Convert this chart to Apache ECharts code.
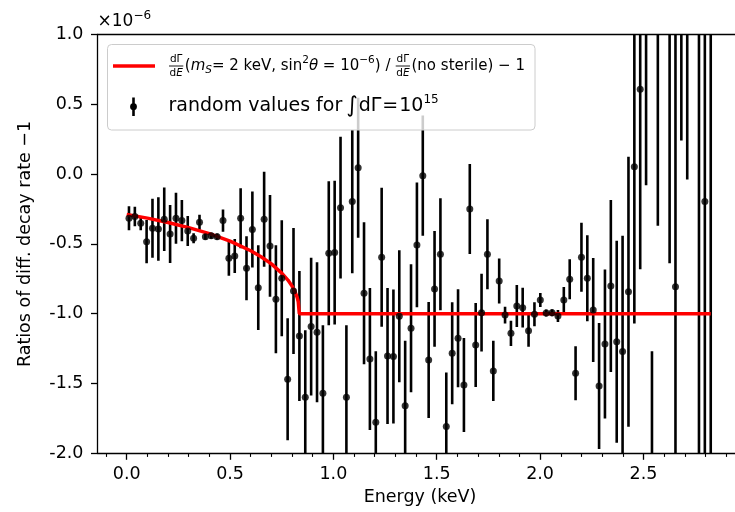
<!DOCTYPE html>
<html><head><meta charset="utf-8">
<script src="https://cdn.jsdelivr.net/npm/echarts@6/dist/echarts.min.js"></script>
<style>html,body{margin:0;padding:0;background:#fff}#c{width:735px;height:512px}</style>
</head><body><div id="c"></div>
<script>
// Energy (keV) of each random point
const xs = [0.0110,0.0394,0.0679,0.0963,0.1247,0.1532,0.1816,0.2100,0.2384,0.2669,
0.2953,0.3237,0.3522,0.3806,0.4090,0.4375,0.4659,0.4943,0.5227,0.5512,
0.5796,0.6080,0.6365,0.6649,0.6933,0.7218,0.7502,0.7786,0.8070,0.8355,
0.8639,0.8923,0.9208,0.9492,0.9776,1.0061,1.0345,1.0629,1.0913,1.1198,
1.1482,1.1766,1.2051,1.2335,1.2619,1.2904,1.3188,1.3472,1.3756,1.4041,
1.4325,1.4609,1.4894,1.5178,1.5462,1.5747,1.6031,1.6315,1.6599,1.6884,
1.7168,1.7452,1.7737,1.8021,1.8305,1.8590,1.8874,1.9158,1.9442,1.9727,
2.0011,2.0295,2.0580,2.0864,2.1148,2.1433,2.1717,2.2001,2.2285,2.2570,
2.2854,2.3138,2.3423,2.3707,2.3991,2.4276,2.4560,2.4844,2.5128,2.5413,
2.5697,2.5981,2.6266,2.6550,2.6834,2.7119,2.7403,2.7687,2.7971,2.8256];
// random values (x 1e-6)
const ys = [-0.317,-0.304,-0.353,-0.485,-0.389,-0.394,-0.324,-0.430,-0.317,-0.334,
-0.408,-0.460,-0.346,-0.449,-0.442,-0.449,-0.334,-0.604,-0.587,-0.317,
-0.675,-0.397,-0.814,-0.324,-0.515,-0.897,-0.747,-1.470,-0.838,-1.160,
-1.599,-1.093,-1.133,-1.570,-0.568,-0.563,-0.241,-1.599,-0.198,0.045,
-0.854,-1.325,-1.778,-0.596,-1.303,-1.307,-1.019,-1.659,-1.105,-0.508,
-0.012,-1.332,-0.823,-0.575,-1.809,-1.284,-1.176,-1.511,-0.251,-1.224,
-0.993,-0.575,-1.410,-0.766,-1.010,-1.141,-0.945,-0.957,-1.122,-1.005,
-0.902,-0.995,-0.993,-1.017,-0.902,-0.754,-1.427,-0.596,-0.747,-0.974,
-1.518,-1.217,-0.802,-1.201,-1.272,-0.843,0.052,0.606,1.42,-2.97,
1.63,3.6,2.06,-0.807,3.64,3.76,-6.5,-2.6,-0.198,2.3];
// symmetric error bars
const errs = [0.086,0.07,0.05,0.155,0.211,0.227,0.227,0.208,0.183,0.148,
0.107,0.036,0.054,0.022,0.022,0.022,0.079,0.125,0.122,0.215,
0.229,0.272,0.304,0.340,0.365,0.387,0.415,0.437,0.451,0.465,
0.480,0.494,0.501,0.487,0.515,0.515,0.508,0.515,0.512,0.501,
0.508,0.508,0.508,0.498,0.487,0.480,0.473,0.465,0.458,0.447,
0.430,0.415,0.415,0.401,0.387,0.365,0.351,0.337,0.322,0.301,
0.279,0.251,0.215,0.161,0.06,0.09,0.15,0.143,0.115,0.086,
0.05,0.025,0.025,0.043,0.093,0.143,0.193,0.247,0.308,0.372,
0.451,0.533,0.616,0.723,0.83,0.967,1.122,1.289,1.5,1.7,
2.0,2.3,2.7,3.0,3.4,3.8,4.3,5.0,5.5,6.2];
// theory curve (red)
const curveX = [0,0.1,0.2,0.3,0.4,0.5,0.6,0.65,0.7,0.75,0.78,0.8,0.815,0.825,0.83,0.835,2.8256];
const curveY = [-0.290,-0.316,-0.347,-0.384,-0.427,-0.481,-0.550,-0.593,-0.644,-0.710,-0.760,-0.803,-0.845,-0.885,-0.915,-1.0,-1.0];
// ticks
const xMajor = [0,0.5,1.0,1.5,2.0,2.5];
const xMinor = [-0.1,0.1,0.2,0.3,0.4,0.6,0.7,0.8,0.9,1.1,1.2,1.3,1.4,1.6,1.7,1.8,1.9,2.1,2.2,2.3,2.4,2.6,2.7,2.8,2.9];

const FONT = 'DejaVu Sans';
const XMIN = -0.1413, XMAX = 2.943;

const chart = echarts.init(document.getElementById('c'));
const ctx = document.createElement('canvas').getContext('2d');
function tw(t, size, it){ ctx.font = (it?'italic ':'') + size + 'px "' + FONT + '"'; return ctx.measureText(t).width; }

const graphics = [];
function txt(x, y, t, size, it, align){
  graphics.push({type:'text', x:x, y:y, zlevel:1, z:101, style:{text:t, fontFamily:FONT, fontSize:size, fontStyle: it?'italic':'normal', fill:'#000', align: align||'left', verticalAlign:'middle'}});
}
function frac(x, y, fs){
  const wn = tw('dΓ', fs, false);
  const wd = tw('d', fs, false) + tw('E', fs, true);
  const W = Math.max(wn, wd) + 2;
  txt(x + W/2, y - 6.5, 'dΓ', fs, false, 'center');
  txt(x + (W - wd)/2, y + 7, 'd', fs, false);
  txt(x + (W - wd)/2 + tw('d', fs, false), y + 7, 'E', fs, true);
  graphics.push({type:'line', zlevel:1, z:101, shape:{x1:x+0.5, y1:y, x2:x+W-0.5, y2:y}, style:{stroke:'#000', lineWidth:0.9}});
  return W;
}
function run(x, y, pieces){
  for (const p of pieces){
    if (p.frac){ x += frac(x, y, p.fs) + 1; continue; }
    txt(x, y + (p.dy||0), p.t, p.s, p.it);
    x += tw(p.t, p.s, p.it) + (p.gap||0);
  }
}

// legend box
graphics.push({type:'rect', zlevel:1, z:100, shape:{x:107.5, y:44.5, width:427.5, height:85.5, r:4}, style:{fill:'rgba(255,255,255,0.8)', stroke:'#cccccc', lineWidth:1}});
graphics.push({type:'line', zlevel:1, z:101, shape:{x1:113, y1:66, x2:155, y2:66}, style:{stroke:'#ff0000', lineWidth:3.5}});
graphics.push({type:'line', zlevel:1, z:101, shape:{x1:133.5, y1:97.5, x2:133.5, y2:116}, style:{stroke:'#000', lineWidth:2.6}});
graphics.push({type:'circle', zlevel:1, z:101, shape:{cx:133.5, cy:106.7, r:3.4}, style:{fill:'#000'}});
const S1 = 15, s1 = 10.5;
run(168.5, 66, [
  {frac:true, fs:10.5},
  {t:'(', s:S1}, {t:'m', s:S1, it:true}, {t:'S', s:s1, it:true, dy:4},
  {t:'= 2 keV, sin', s:S1}, {t:'2', s:s1, dy:-6}, {t:'θ', s:S1, it:true},
  {t:' = 10', s:S1}, {t:'−6', s:s1, dy:-6}, {t:') / ', s:S1},
  {frac:true, fs:10.5},
  {t:'(no sterile) − 1', s:S1}
]);
const S2 = 19;
run(168.5, 106.5, [
  {t:'random values for ', s:S2, gap:-2}, {t:'∫', s:22, it:true, gap:1},
  {t:'dΓ', s:S2, gap:1}, {t:'=', s:S2, gap:1}, {t:'10', s:S2}, {t:'15', s:12, dy:-7}
]);
// offset text and axis titles
txt(97.5, 22, '×10', 17, false);
txt(97.5 + tw('×10', 17, false), 16, '−6', 12, false);
txt(420, 497, 'Energy (keV)', 17.5, false, 'center');
graphics.push({type:'text', x:25, y:244, rotation:Math.PI/2, zlevel:1, z:101, style:{text:'Ratios of diff. decay rate −1', fontFamily:FONT, fontSize:17.5, fill:'#000', align:'center', verticalAlign:'middle'}});

const errData = xs.map((x,i)=>[x, ys[i], errs[i]]);
const ptData = xs.map((x,i)=>[x, ys[i]]);
const lineData = curveX.map((x,i)=>[x, curveY[i]]);

const axisCommon = {min:XMIN, max:XMAX, type:'value', splitLine:{show:false}};
chart.setOption({
  animation:false,
  grid:{left:97.5, right:0, top:34.3, bottom:58.7, containLabel:false},
  xAxis:[
    Object.assign({}, axisCommon, {position:'bottom',
      axisLine:{show:true, onZero:false, lineStyle:{color:'#000', width:1.3}},
      axisTick:{show:true, customValues:xMajor, length:6.5, lineStyle:{color:'#000', width:1.3}},
      axisLabel:{show:true, customValues:xMajor, margin:12, fontFamily:FONT, fontSize:17.5, color:'#000', formatter:v=>v.toFixed(1)}}),
    Object.assign({}, axisCommon, {position:'bottom',
      axisLine:{show:false, onZero:false},
      axisTick:{show:true, customValues:xMinor, length:3.6, lineStyle:{color:'#000', width:1.1}},
      axisLabel:{show:false}}),
    Object.assign({}, axisCommon, {position:'top',
      axisLine:{show:true, onZero:false, lineStyle:{color:'#000', width:1.3}},
      axisTick:{show:false}, axisLabel:{show:false}})
  ],
  yAxis:[{type:'value', min:-2, max:1, interval:0.5, splitLine:{show:false},
    axisLine:{show:true, onZero:false, lineStyle:{color:'#000', width:1.3}},
    axisTick:{show:true, length:6.5, lineStyle:{color:'#000', width:1.3}},
    axisLabel:{margin:14, fontFamily:FONT, fontSize:17.5, color:'#000', formatter:v=>v.toFixed(1)}}],
  series:[
    {type:'custom', xAxisIndex:0, yAxisIndex:0, z:1, clip:true, data:errData,
      renderItem:function(params, api){
        const x = api.value(0), y = api.value(1), e = api.value(2);
        const p1 = api.coord([x, y+e]), p2 = api.coord([x, y-e]);
        return {type:'line', shape:{x1:p1[0], y1:p1[1], x2:p2[0], y2:p2[1]}, style:{stroke:'#000', lineWidth:2.6}};
      }},
    {type:'line', xAxisIndex:0, z:2, data:lineData, showSymbol:false, symbol:'none', clip:true,
      lineStyle:{color:'#ff0000', width:3.5}},
    {type:'scatter', xAxisIndex:0, z:3, data:ptData, symbol:'circle', symbolSize:7, clip:true,
      itemStyle:{color:'#000'}}
  ],
  graphic:graphics
});
</script></body></html>
